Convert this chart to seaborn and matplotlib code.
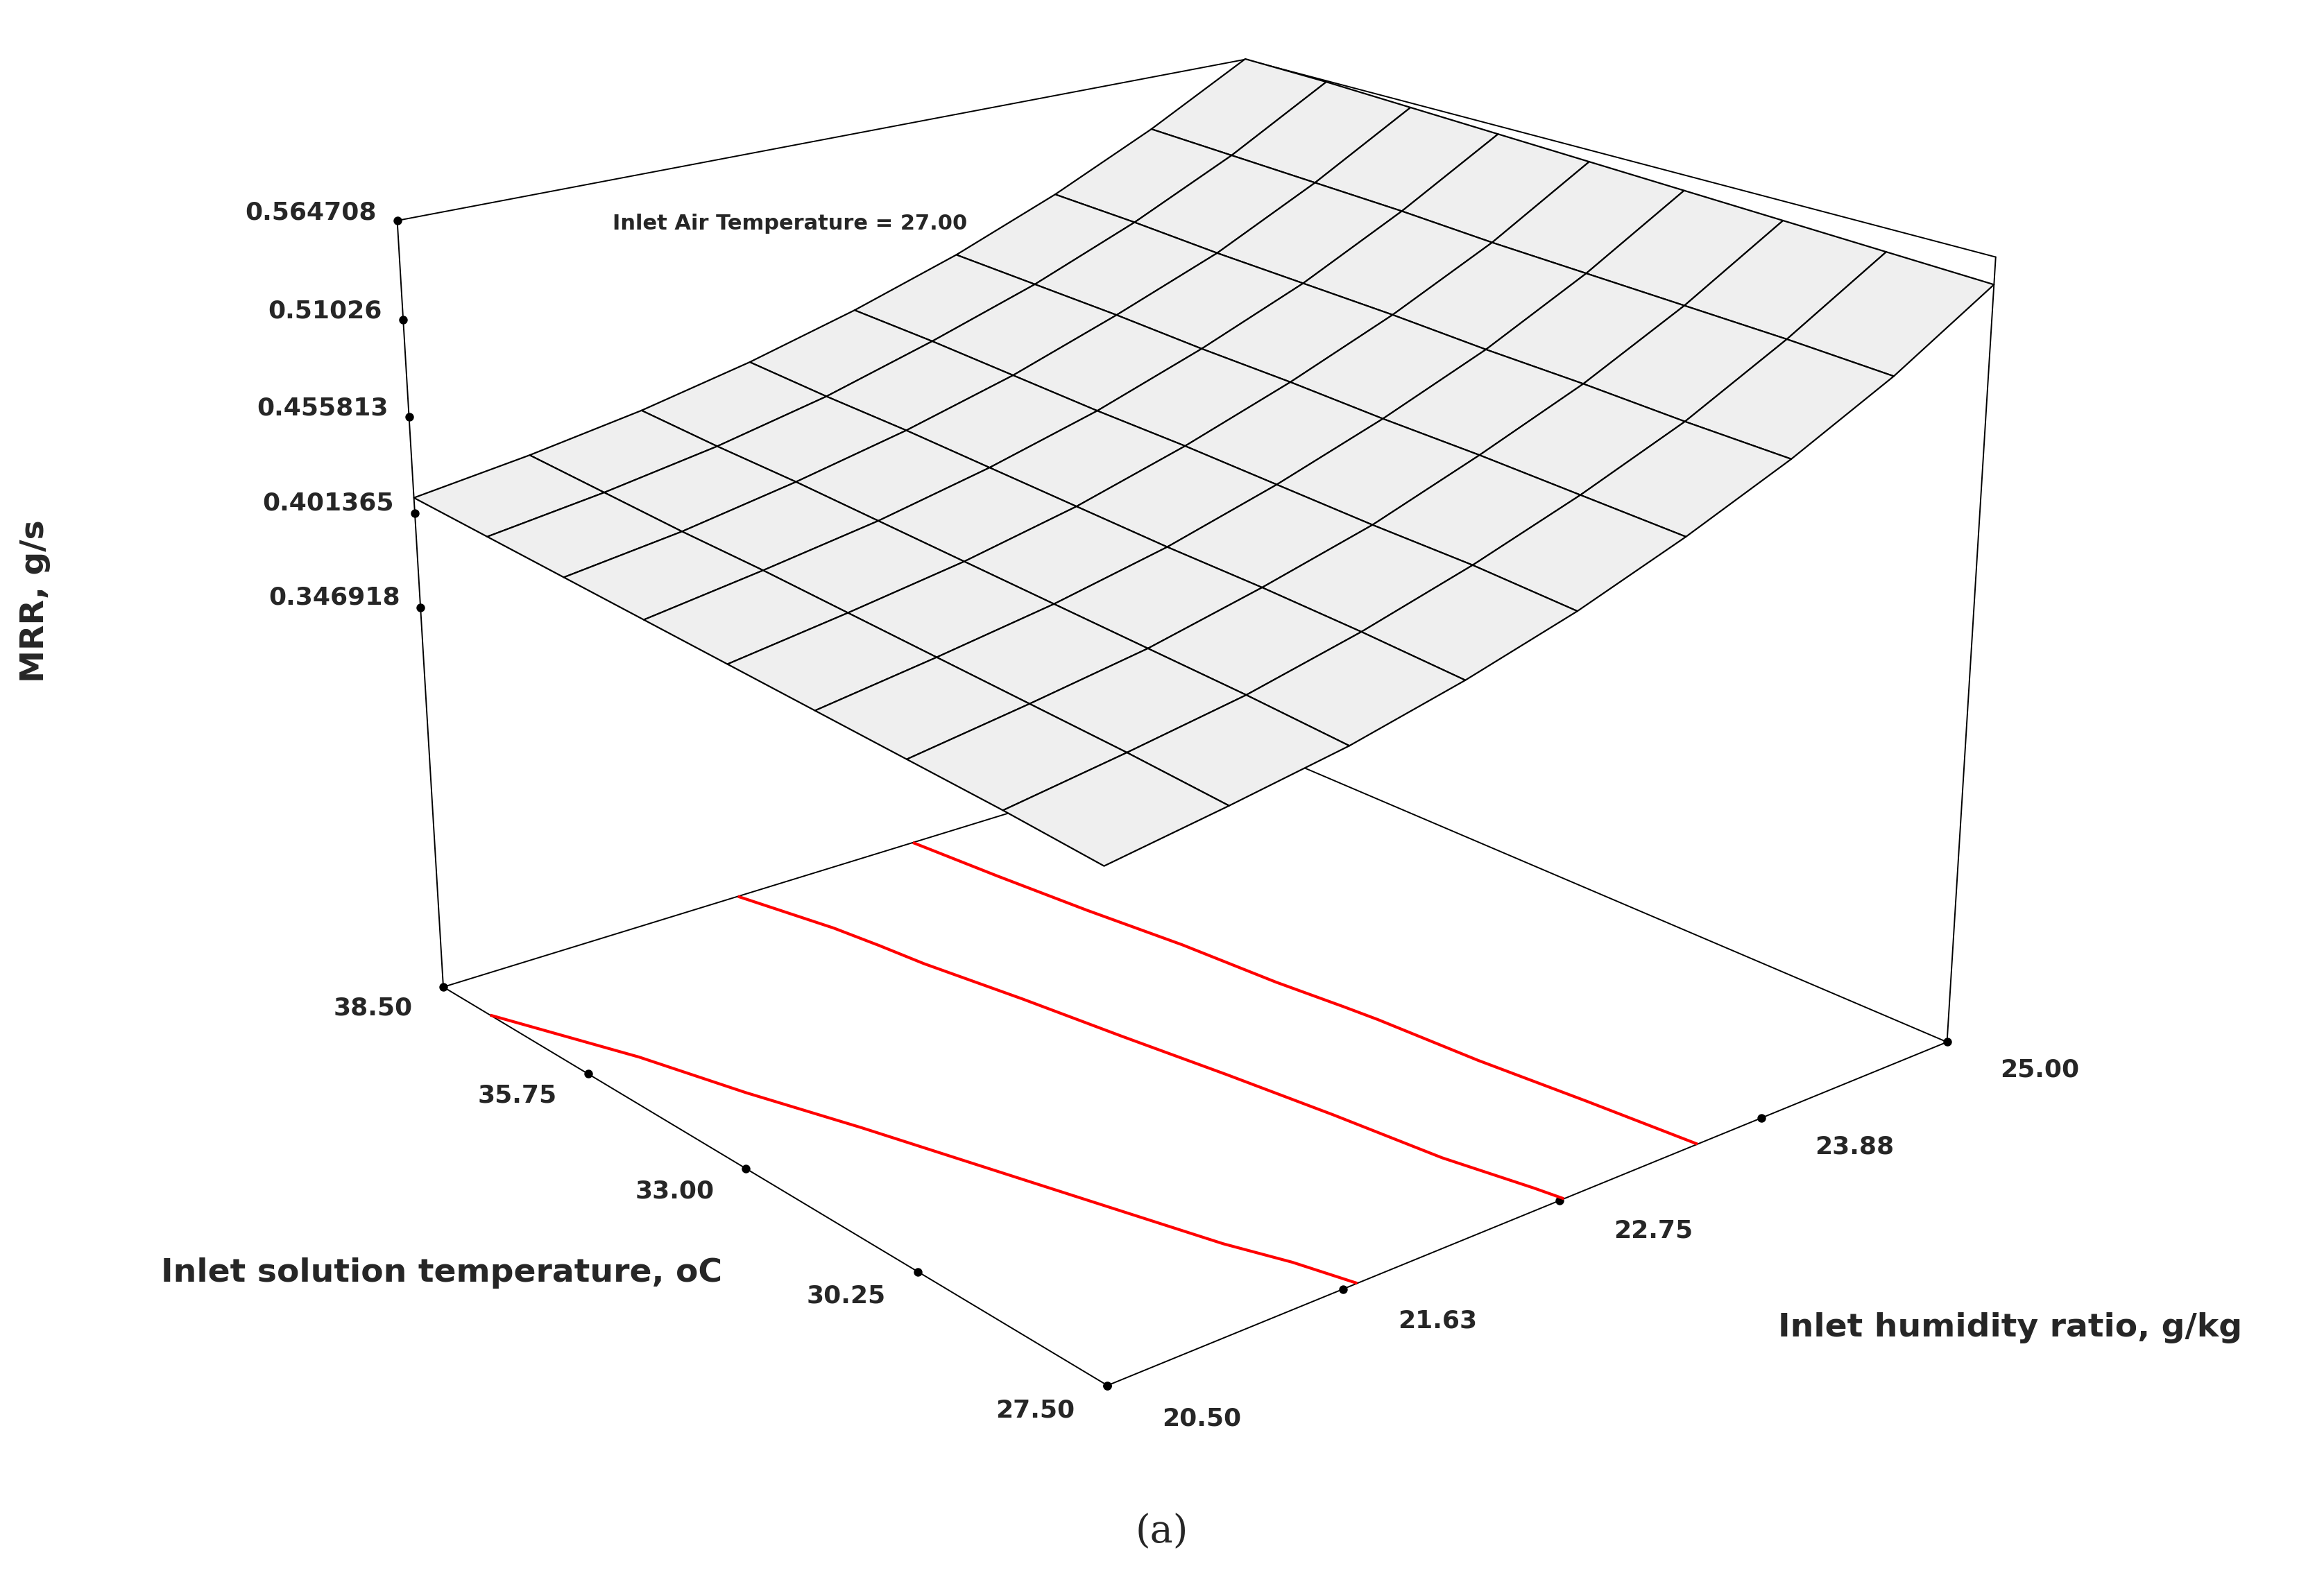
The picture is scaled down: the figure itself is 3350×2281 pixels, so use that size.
import numpy as np
import matplotlib
matplotlib.use("Agg")
import matplotlib.pyplot as plt
from matplotlib.colors import LightSource
import seaborn as sns

sns.set_style("white")
plt.rcParams['font.family'] = ['DejaVu Sans']

# factor grids
humidity = [20.5, 21.0625, 21.625, 22.1875, 22.75, 23.3125, 23.875, 24.4375, 25.0]
solution_temp = [27.5, 28.875, 30.25, 31.625, 33.0, 34.375, 35.75, 37.125, 38.5]

# MRR (g/s), rows = solution temp, cols = humidity
mrr = [
    [0.385, 0.395, 0.406, 0.421, 0.439, 0.461, 0.486, 0.515, 0.550],
    [0.389, 0.399, 0.410, 0.425, 0.443, 0.464, 0.488, 0.518, 0.552],
    [0.392, 0.402, 0.413, 0.428, 0.445, 0.467, 0.491, 0.520, 0.554],
    [0.395, 0.405, 0.416, 0.430, 0.448, 0.469, 0.493, 0.522, 0.556],
    [0.398, 0.408, 0.419, 0.433, 0.451, 0.472, 0.496, 0.524, 0.558],
    [0.401, 0.411, 0.422, 0.436, 0.453, 0.474, 0.498, 0.527, 0.560],
    [0.404, 0.413, 0.425, 0.439, 0.456, 0.477, 0.500, 0.529, 0.562],
    [0.407, 0.416, 0.427, 0.441, 0.459, 0.479, 0.503, 0.531, 0.564],
    [0.410, 0.419, 0.430, 0.444, 0.461, 0.481, 0.505, 0.533, 0.565],
]
x_ticks = [20.50, 21.63, 22.75, 23.88, 25.00]
y_ticks = [27.50, 30.25, 33.00, 35.75, 38.50]
z_ticks = [0.346918, 0.401365, 0.455813, 0.51026, 0.564708]
contour_levels = [0.408, 0.44, 0.47]

X, Y = np.meshgrid(humidity, solution_temp)
Z = np.array(mrr)
zmin, zmax = 0.12, 0.564708

fig = plt.figure(figsize=(16.75, 11.405), dpi=200)
ax = fig.add_axes([-0.12, 0.042, 1.24, 1.08], projection='3d')
ax.set_proj_type('persp', focal_length=0.5)
ax.view_init(elev=20, azim=-130)

ls = LightSource(azdeg=200, altdeg=70)
ax.plot_surface(X, Y, Z, color='#f4f4f4', edgecolor='black', linewidth=0.8,
                shade=True, lightsource=ls, antialiased=True)
ax.contour(X, Y, Z, levels=contour_levels, zdir='z', offset=zmin, colors='red', linewidths=1.5)

# box edges
x0, x1 = humidity[0], humidity[-1]
y0, y1 = solution_temp[0], solution_temp[-1]
for (xa, ya, za), (xb, yb, zb) in [
    ((x0, y0, zmin), (x1, y0, zmin)), ((x0, y0, zmin), (x0, y1, zmin)),
    ((x1, y0, zmin), (x1, y1, zmin)), ((x0, y1, zmin), (x1, y1, zmin)),
    ((x0, y1, zmin), (x0, y1, zmax)), ((x1, y0, zmin), (x1, y0, zmax)),
    ((x1, y1, zmin), (x1, y1, zmax)),
    ((x0, y1, zmax), (x1, y1, zmax)), ((x1, y0, zmax), (x1, y1, zmax)),
]:
    ax.plot([xa, xb], [ya, yb], [za, zb], color='black', linewidth=0.7)

ax.set_xlim(x0, x1)
ax.set_ylim(y0, y1)
ax.set_zlim(zmin, zmax)
ax.set_axis_off()

# tick dots and labels
tfont = dict(fontsize=13, fontweight='bold')
for xv in x_ticks:
    ax.scatter([xv], [y0], [zmin], color='black', s=12)
    ax.text(xv + 0.05, y0 - 0.6, zmin, f"{xv:.2f}", ha='left', va='top', **tfont)
for yv in y_ticks:
    ax.scatter([x0], [yv], [zmin], color='black', s=12)
    ax.text(x0 - 0.15, yv, zmin, f"{yv:.2f}", ha='right', va='top', **tfont)
for zv in z_ticks:
    ax.scatter([x0], [y1], [zv], color='black', s=12)
    ax.text(x0, y1 + 0.4, zv, f"{zv:g}", ha='right', va='center', **tfont)

fig.text(0.19, 0.19, "Inlet solution temperature, oC", ha='center', fontsize=17, fontweight='bold')
fig.text(0.865, 0.155, "Inlet humidity ratio, g/kg", ha='center', fontsize=17, fontweight='bold')
fig.text(0.015, 0.62, "MRR, g/s", rotation=90, ha='center', va='center', fontsize=17, fontweight='bold')
fig.text(0.34, 0.855, "Inlet Air Temperature = 27.00", ha='center', fontsize=11, fontweight='bold')
fig.text(0.5, 0.025, "(a)", ha='center', fontsize=20, family='DejaVu Serif')

fig.savefig("out.png", dpi=200, facecolor='white')
